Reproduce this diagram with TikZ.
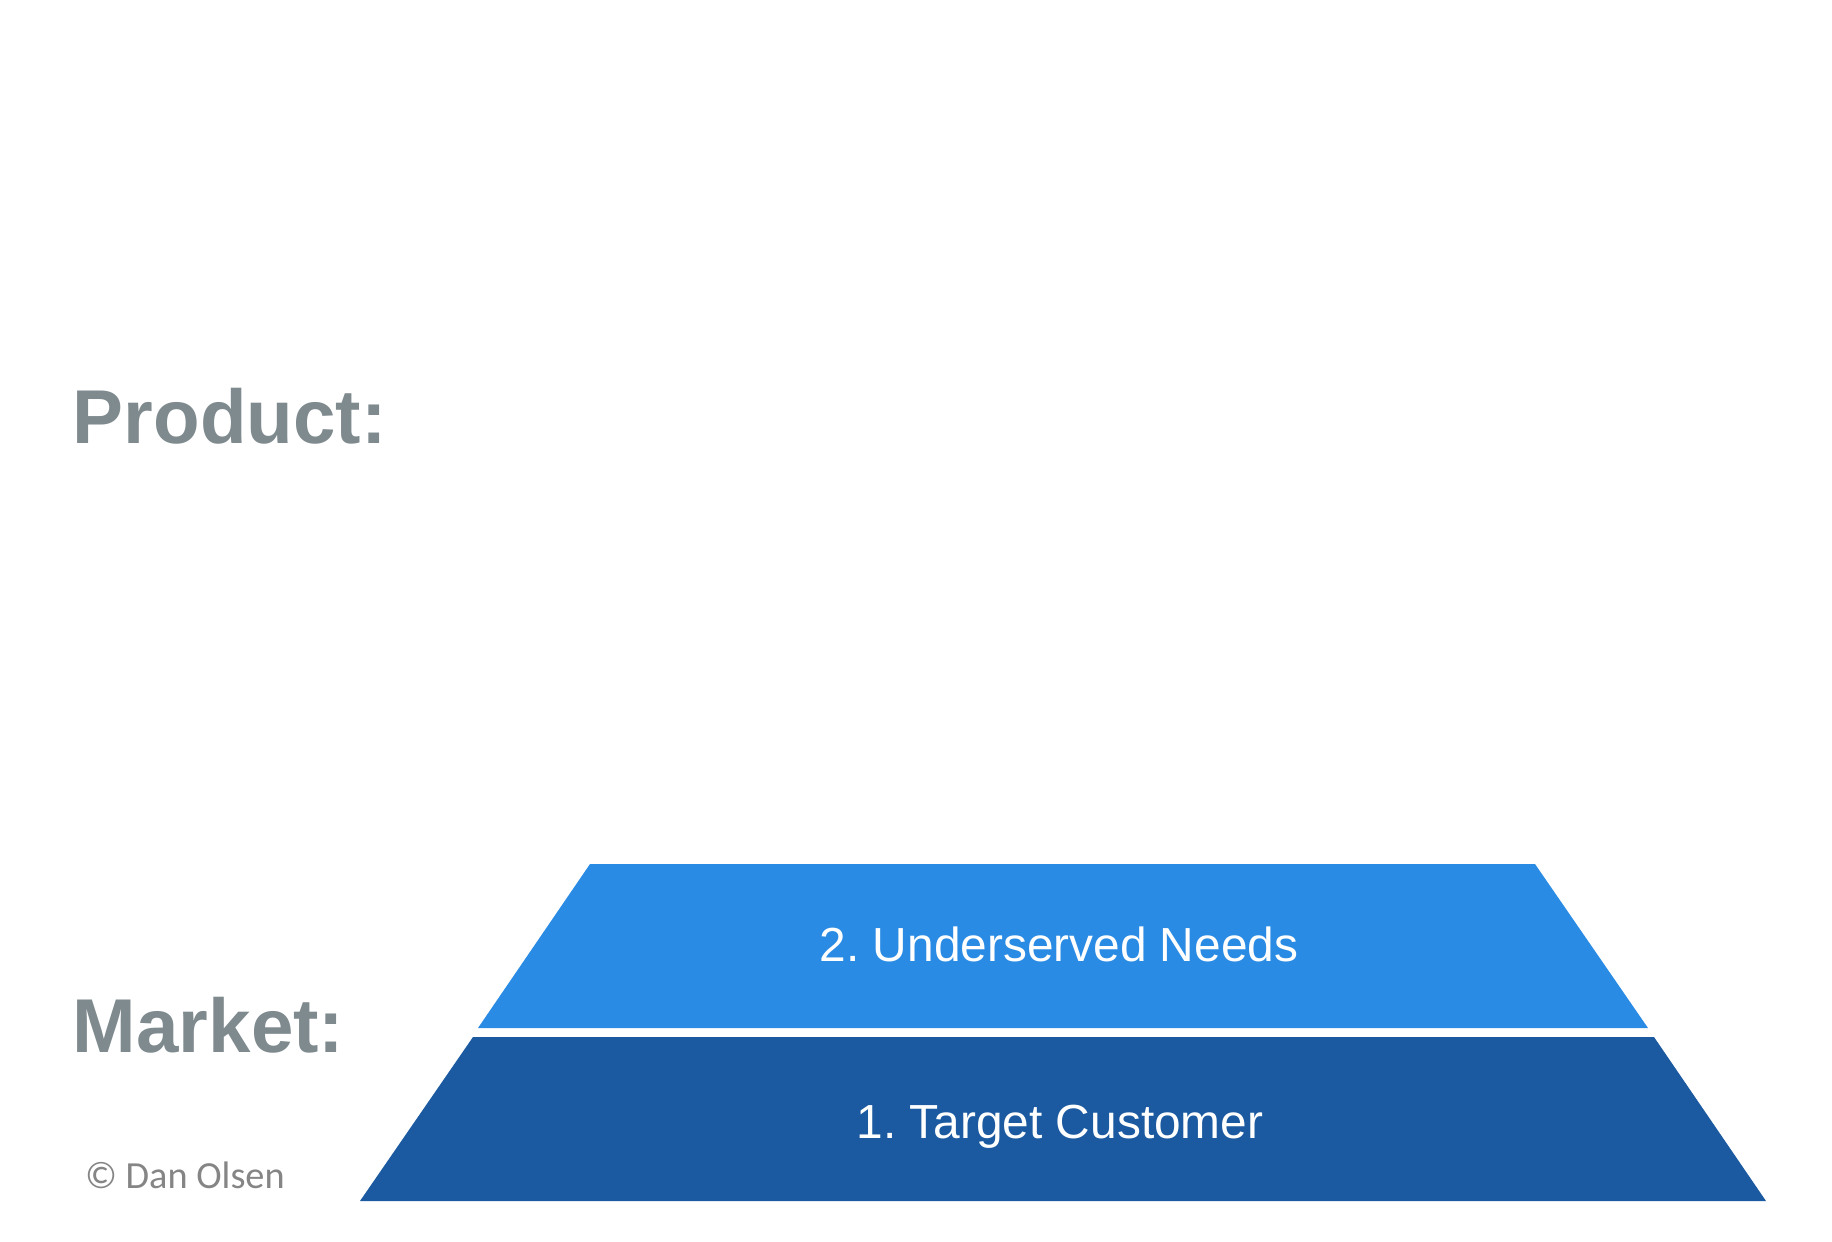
\documentclass[tikz,border=0pt]{standalone}
\usepackage{fontspec}
\setmainfont{Liberation Sans}
\newfontfamily\copyfont{Carlito}
\definecolor{needblue}{HTML}{2A8BE4}
\definecolor{custblue}{HTML}{1B5AA0}
\definecolor{labelgray}{HTML}{7F8A8E}
\definecolor{copygray}{HTML}{858585}
\frenchspacing

\begin{document}
\begin{tikzpicture}
  [x=0.01cm,y=-0.01cm,
   every node/.style={inner sep=0pt,outer sep=0pt},
   layer/.style={color=white,font=\fontsize{13.6}{16}\selectfont,anchor=base},
   side/.style={color=labelgray,font=\fontsize{21.7}{24}\bfseries\selectfont,anchor=base west}]
  \useasboundingbox (0,0) rectangle (1832,1241);

  % pyramid layers
  \fill[needblue] (590,864) -- (1535,864) -- (1648,1028) -- (478,1028) -- cycle;
  \fill[custblue] (473,1037) -- (1654,1037) -- (1766,1201) -- (360,1201) -- cycle;

  \node[layer] (needs) at (1059,961) {2. Underserved Needs};
  \node[layer] (cust) at (1060,1138) {1. Target Customer};

  \node[side] (product) at (73,443) {Product:};
  \node[side] (market) at (73,1052) {Market:};

  \node[anchor=base west,color=copygray,font=\copyfont\fontsize{10.9}{12}\selectfont] (copy) at (85,1188) {© Dan Olsen};
\end{tikzpicture}
\end{document}
